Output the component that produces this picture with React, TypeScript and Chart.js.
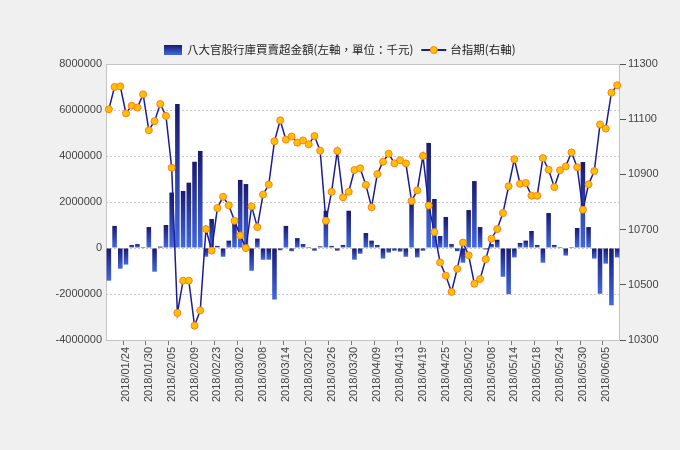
import React, { useEffect, useRef } from 'react';
import { Chart, registerables } from 'chart.js';

Chart.register(...registerables);

// trading days 2018/01/19 - 2018/06/07
const dates = [
  '2018/01/19', '2018/01/22', '2018/01/23', '2018/01/24', '2018/01/25', '2018/01/26', '2018/01/29', '2018/01/30', '2018/01/31',
  '2018/02/01', '2018/02/02', '2018/02/05', '2018/02/06', '2018/02/07', '2018/02/08', '2018/02/09', '2018/02/12', '2018/02/21',
  '2018/02/22', '2018/02/23', '2018/02/26', '2018/02/27', '2018/03/01', '2018/03/02', '2018/03/05', '2018/03/06', '2018/03/07',
  '2018/03/08', '2018/03/09', '2018/03/12', '2018/03/13', '2018/03/14', '2018/03/15', '2018/03/16', '2018/03/19', '2018/03/20',
  '2018/03/21', '2018/03/22', '2018/03/23', '2018/03/26', '2018/03/27', '2018/03/28', '2018/03/29', '2018/03/30', '2018/03/31',
  '2018/04/02', '2018/04/03', '2018/04/09', '2018/04/10', '2018/04/11', '2018/04/12', '2018/04/13', '2018/04/16', '2018/04/17',
  '2018/04/18', '2018/04/19', '2018/04/20', '2018/04/23', '2018/04/24', '2018/04/25', '2018/04/26', '2018/04/27', '2018/04/30',
  '2018/05/02', '2018/05/03', '2018/05/04', '2018/05/07', '2018/05/08', '2018/05/09', '2018/05/10', '2018/05/11', '2018/05/14',
  '2018/05/15', '2018/05/16', '2018/05/17', '2018/05/18', '2018/05/21', '2018/05/22', '2018/05/23', '2018/05/24', '2018/05/25',
  '2018/05/28', '2018/05/29', '2018/05/30', '2018/05/31', '2018/06/01', '2018/06/04', '2018/06/05', '2018/06/06', '2018/06/07',
];

// 八大官股行庫買賣超金額 (千元)
const netBuy = [
  -1420000, 960000, -900000, -720000, 130000, 170000, 40000, 910000, -1030000,
  60000, 1000000, 2410000, 6260000, 2480000, 2840000, 3750000, 4220000, -380000,
  1260000, 90000, -380000, 320000, 1190000, 2960000, 2780000, -990000, 410000,
  -510000, -510000, -2240000, -100000, 960000, -140000, 430000, 170000, 40000,
  -120000, 70000, 1620000, 90000, -120000, 130000, 1620000, -510000, -250000,
  650000, 320000, 130000, -460000, -200000, -120000, -160000, -380000, 2160000,
  -410000, -120000, 4570000, 2130000, 520000, 1350000, 170000, -140000, -640000,
  1650000, 2910000, 910000, -60000, 170000, 360000, -1250000, -2010000, -410000,
  220000, 320000, 740000, 130000, -640000, 1520000, 130000, 40000, -330000,
  40000, 870000, 3740000, 910000, -460000, -1990000, -680000, -2490000, -410000,
];

// 台指期
const taiex = [
  11136, 11217, 11219, 11121, 11149, 11142, 11190, 11060, 11093,
  11155, 11112, 10924, 10398, 10515, 10515, 10352, 10407, 10702,
  10624, 10778, 10819, 10788, 10732, 10679, 10633, 10784, 10709,
  10827, 10863, 11020, 11096, 11026, 11037, 11015, 11023, 11009,
  11039, 10986, 10732, 10837, 10985, 10817, 10837, 10916, 10922,
  10862, 10781, 10901, 10946, 10975, 10940, 10951, 10940, 10804,
  10842, 10967, 10787, 10691, 10581, 10533, 10474, 10558, 10653,
  10607, 10504, 10521, 10593, 10667, 10702, 10760, 10857, 10955,
  10866, 10869, 10823, 10823, 10959, 10917, 10854, 10915, 10929,
  10980, 10926, 10772, 10864, 10912, 11081, 11066, 11196, 11223,
];

const barLabel = '八大官股行庫買賣超金額(左軸，單位：千元)';
const lineLabel = '台指期(右軸)';

const FONT = "'Liberation Sans', Arial, sans-serif";
const CJK = "'Noto Sans CJK TC', 'Liberation Sans', sans-serif";
const DARK = '#191970';
const LIGHT = '#4169e1';
const LINE = '#1c1c94';
const DOT = '#ffc000';
const DOT_EDGE = '#ff7f1a';

const showLabel = (i: number) => i % 4 === 3;

// panel background, white plot area and its border
const framePlugin = {
  id: 'frame',
  beforeDraw(chart: any) {
    const { ctx, chartArea: a, width, height } = chart;
    ctx.save();
    ctx.fillStyle = '#f0f0f0';
    ctx.fillRect(0, 0, width, height);
    ctx.fillStyle = '#ffffff';
    ctx.fillRect(a.left, a.top, a.right - a.left, a.bottom - a.top);
    ctx.restore();
  },
  beforeDatasetsDraw(chart: any) {
    const { ctx, chartArea: a } = chart;
    ctx.save();
    ctx.strokeStyle = '#c4c4c4';
    ctx.lineWidth = 1;
    ctx.strokeRect(Math.round(a.left) + 0.5, Math.round(a.top) + 0.5, Math.round(a.right - a.left) - 1, Math.round(a.bottom - a.top));
    ctx.restore();

    // vertical gradient per bar: dark at the top edge, light at the bottom edge
    chart.data.datasets.forEach((d: any, di: number) => {
      if (d.type !== 'bar') return;
      const meta = chart.getDatasetMeta(di);
      meta.data.forEach((el: any) => {
        const top = Math.min(el.y, el.base);
        const bot = Math.max(el.y, el.base);
        if (bot - top < 1) return;
        const g = ctx.createLinearGradient(0, top, 0, bot);
        g.addColorStop(0, DARK);
        g.addColorStop(1, LIGHT);
        el.options.backgroundColor = g;
      });
    });
  },
};

// legend drawn above the plot
const legendPlugin = {
  id: 'topLegend',
  afterDraw(chart: any) {
    const { ctx, width } = chart;
    const ds = chart.data.datasets;
    const bar = ds.find((d: any) => d.type === 'bar');
    const line = ds.find((d: any) => d.type === 'line');
    ctx.save();
    ctx.font = `11.5px ${CJK}`;
    ctx.textBaseline = 'middle';
    const w1 = ctx.measureText(bar.label).width;
    const w2 = ctx.measureText(line.label).width;
    const total = 18 + 5 + w1 + 8 + 25 + 4 + w2;
    let x = Math.round(width / 2 - total / 2);
    const y = 50;
    const g = ctx.createLinearGradient(0, y - 5, 0, y + 5);
    g.addColorStop(0, DARK);
    g.addColorStop(1, LIGHT);
    ctx.fillStyle = g;
    ctx.fillRect(x, y - 5, 18, 10);
    x += 23;
    ctx.fillStyle = '#222';
    ctx.fillText(bar.label, x, y);
    x += w1 + 8;
    ctx.strokeStyle = LINE;
    ctx.lineWidth = 2;
    ctx.beginPath();
    ctx.moveTo(x, y);
    ctx.lineTo(x + 25, y);
    ctx.stroke();
    ctx.beginPath();
    ctx.arc(x + 12.5, y, 3.5, 0, Math.PI * 2);
    ctx.fillStyle = DOT;
    ctx.fill();
    ctx.lineWidth = 1;
    ctx.strokeStyle = DOT_EDGE;
    ctx.stroke();
    x += 29;
    ctx.fillStyle = '#222';
    ctx.fillText(line.label, x, y);
    ctx.restore();
  },
};

const App: React.FC = () => {
  const chartRef = useRef<HTMLCanvasElement>(null);

  useEffect(() => {
    if (!chartRef.current) return;
    const ctx = chartRef.current.getContext('2d');
    if (!ctx) return;

    const chart = new Chart(ctx, {
      type: 'bar',
      data: {
        labels: dates,
        datasets: [
          {
            type: 'line',
            label: lineLabel,
            data: taiex,
            yAxisID: 'y1',
            order: 0,
            borderColor: LINE,
            borderWidth: 1.5,
            tension: 0,
            pointRadius: 3.5,
            pointBackgroundColor: DOT,
            pointBorderColor: DOT_EDGE,
            pointBorderWidth: 1,
          },
          {
            type: 'bar',
            label: barLabel,
            data: netBuy,
            yAxisID: 'y',
            order: 1,
            categoryPercentage: 1,
            barPercentage: 0.8,
            // scriptable so every bar keeps its own options object
            backgroundColor: () => DARK,
          },
        ] as any,
      },
      options: {
        animation: false,
        responsive: false,
        layout: { padding: { top: 64, left: 0, right: 0, bottom: 0 } },
        plugins: {
          legend: { display: false },
          tooltip: { enabled: false },
        },
        scales: {
          x: {
            offset: true,
            border: { display: false },
            grid: {
              drawOnChartArea: false,
              drawTicks: true,
              tickLength: 5,
              color: (c: any) => (showLabel(c.index) ? '#777' : 'rgba(0,0,0,0)'),
            },
            ticks: {
              autoSkip: false,
              minRotation: 90,
              maxRotation: 90,
              padding: 2,
              color: '#444',
              font: { family: FONT, size: 11 },
              callback: (_v: any, i: number) => (showLabel(i) ? dates[i] : ''),
            },
            afterFit: (s: any) => {
              s.height = 110;
            },
          },
          y: {
            position: 'left',
            min: -4000000,
            max: 8000000,
            border: { display: false, dash: [2, 2] },
            grid: { color: '#c8c8c8', drawTicks: false },
            ticks: {
              stepSize: 2000000,
              padding: 4,
              color: '#444',
              font: { family: FONT, size: 11 },
              callback: (v: any) => String(v),
            },
            afterFit: (s: any) => {
              s.width = 106;
            },
          },
          y1: {
            position: 'right',
            min: 10300,
            max: 11300,
            border: { display: false },
            grid: { drawOnChartArea: false, drawTicks: true, tickLength: 6, color: '#555' },
            ticks: {
              stepSize: 200,
              padding: 2,
              color: '#444',
              font: { family: FONT, size: 11 },
              callback: (v: any) => String(v),
            },
            afterFit: (s: any) => {
              s.width = 60;
            },
          },
        },
      },
      plugins: [framePlugin, legendPlugin],
    });

    return () => {
      chart.destroy();
    };
  }, []);

  return (
    <div style={{ position: 'fixed', left: 0, top: 0, width: 680, height: 450, background: '#f0f0f0' }}>
      <canvas ref={chartRef} width={680} height={450} style={{ display: 'block' }}></canvas>
    </div>
  );
};

export default App;
